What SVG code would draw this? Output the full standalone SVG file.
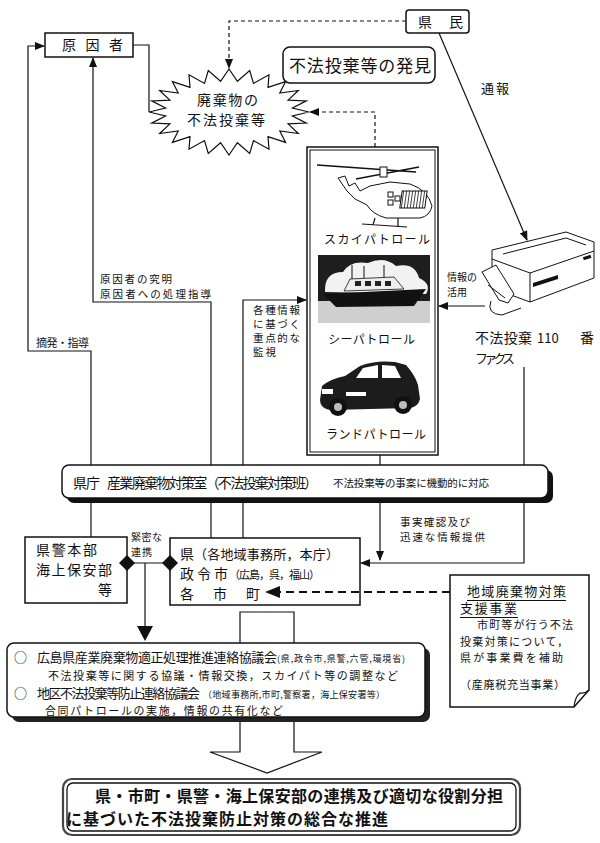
<svg xmlns="http://www.w3.org/2000/svg" width="600" height="843" viewBox="0 0 600 843">
<defs>
<marker id="ah" markerWidth="10" markerHeight="8" refX="9" refY="4" orient="auto" markerUnits="userSpaceOnUse"><path d="M0,0 L10,4 L0,8 Z" fill="#111"/></marker>
<pattern id="hatch" width="3" height="3" patternUnits="userSpaceOnUse"><rect width="3" height="3" fill="#fff"/><path d="M0,0 L0,3" stroke="#111" stroke-width="1.6"/></pattern>
</defs>
<style>
text{font-family:"Noto Sans CJK JP","Noto Sans",sans-serif;fill:#111}
.ln{fill:none;stroke:#111;stroke-width:1.2}
.dash{fill:none;stroke:#111;stroke-width:1.2;stroke-dasharray:4 3}
.box{fill:#fff;stroke:#111;stroke-width:1.5}
.s10{font-size:10px}.s105{font-size:10.5px}.s11{font-size:11px}.s12{font-size:12px}.s13{font-size:13px}.s14{font-size:14px}.s16{font-size:16px}
.pic{stroke:#111;stroke-width:1}
</style>
<rect width="600" height="843" fill="#fff"/>

<g id="result-arrow">
<polygon points="240,612 294,612 294,752 322,752 267,773 210,752 240,752" fill="#fff" stroke="#111" stroke-width="1.2"/>
</g>

<g id="cause">
<rect class="box" x="45" y="33" width="88" height="24"/>
<text class="s14" x="62" y="50" textLength="61" lengthAdjust="spacing">原因者</text>
</g>

<g id="citizens">
<rect class="box" x="406" y="10" width="63" height="23" rx="3"/>
<text class="s14" x="418" y="27" textLength="45" lengthAdjust="spacing">県民</text>
</g>

<g id="discovery">
<rect class="box" x="283" y="47" width="152" height="36" rx="7"/>
<text style="font-size:17px" x="289" y="72" textLength="142" lengthAdjust="spacing">不法投棄等の発見</text>
</g>

<g id="dumping">
<polygon fill="#fff" stroke="#111" stroke-width="1.2" points="309,112 292.4,116 306.3,123.1 288.1,123.9 298.3,133.5 279.8,130.9 285.6,142.4 268,136.6 269,149.2 253.5,140.6 249.7,153.5 237.4,142.7 229,155 220.6,142.7 208.3,153.5 204.5,140.6 189,149.2 190,136.6 172.4,142.4 178.2,130.9 159.7,133.5 169.9,123.9 151.7,123.1 165.6,116 149,112 165.6,108 151.7,100.9 169.9,100.1 159.7,90.5 178.2,93.1 172.4,81.6 190,87.4 189,74.8 204.5,83.4 208.3,70.5 220.6,81.3 229,69 237.4,81.3 249.7,70.5 253.5,83.4 269,74.8 268,87.4 285.6,81.6 279.8,93.1 298.3,90.5 288.1,100.1 306.3,100.9 292.4,108"/>
<text class="s14" x="197" y="105" textLength="61" lengthAdjust="spacing">廃棄物の</text>
<text class="s14" x="187" y="125" textLength="78" lengthAdjust="spacing">不法投棄等</text>
</g>

<g id="patrol">
<rect class="box" x="307" y="147" width="131" height="308"/>
<rect fill="none" stroke="#111" stroke-width="1" x="310" y="150" width="125" height="302"/>
<g class="pic" fill="none">
<path d="M317,165 L416,172 M356,179 L419,167" stroke-width="1.3"/>
<rect x="380" y="167" width="7" height="10" fill="#fff"/>
<path fill="#fff" d="M338,178 L345,176 L349,186 L355,183 L360,191 L370,186 L390,182 L410,184 Q428,190 432,206 Q430,216 420,218 L386,218 Q372,214 367,205 L355,199 L347,191 Z"/>
<rect x="401" y="191" width="25" height="17" fill="url(#hatch)" transform="skewX(-8) translate(28,0)"/>
<rect x="388" y="192" width="5" height="5" fill="#fff"/>
<rect x="388" y="200" width="5" height="5" fill="#fff"/>
<rect x="395" y="196" width="5" height="5" fill="#fff"/>
<path d="M362,224 L407,227 M375,218 L373,225 M398,218 L398,226" stroke-width="1.2"/>
</g>
<text class="s12" x="324" y="244" textLength="106" lengthAdjust="spacing">スカイパトロール</text>
<rect x="318" y="255" width="112" height="68" fill="#1e1e1e"/>
<rect x="318" y="301" width="112" height="22" fill="#cfcfcf"/>
<path d="M325,292 Q324,272 343,272 Q350,260 368,263 Q384,256 396,266 Q415,262 419,278 Q432,284 426,294 Z" fill="#f2f2f2"/>
<path d="M323,294 L426,289 L414,306 L336,307 Z" fill="#111"/>
<path d="M344,291 L350,279 L394,277 L404,289 Z" fill="#eee" stroke="#111" stroke-width="0.8"/>
<path d="M355,281 h6 v5 h-6 z M365,281 h6 v5 h-6 z M375,281 h6 v5 h-6 z M385,281 h6 v5 h-6 z" fill="#222"/>
<path d="M352,279 L352,265 M364,278 L364,266 M384,277 L384,265" stroke="#111" stroke-width="1"/>
<text class="s12" x="328" y="344" textLength="87" lengthAdjust="spacing">シーパトロール</text>
<path d="M320,400 L322,386 Q330,379 345,376 L360,366 Q375,360 395,362 L406,365 Q415,375 418,385 L420,399 Q418,407 410,408 L330,410 Q320,408 320,400 Z" fill="#1c1c1c"/>
<path d="M356,378 L363,368 L378,365 L378,378 Z M382,365 L395,366 L401,378 L382,378 Z" fill="#fff"/>
<rect x="322" y="389" width="11" height="5" fill="#fff"/>
<rect x="346" y="392" width="20" height="4" fill="#fff"/>
<circle cx="338" cy="407" r="9" fill="#111"/><circle cx="338" cy="407" r="4" fill="#bbb"/>
<circle cx="403" cy="405" r="9" fill="#111"/><circle cx="403" cy="405" r="4" fill="#bbb"/>
<text class="s12" x="326" y="439" textLength="100" lengthAdjust="spacing">ランドパトロール</text>
</g>

<g id="fax">
<path class="pic" fill="#fff" d="M492,250 L566,232 L594,242 L594,278 L530,302 L492,288 Z"/>
<path class="pic" fill="none" d="M492,259 L530,273 L594,251 M530,273 L530,302 M503,254 L566,238 L586,245"/>
<polygon points="533,283 558,275 558,279 533,287" fill="#111"/>
<rect x="583" y="256" width="8" height="3" fill="#111" transform="rotate(-18 587 257)"/>
<path class="pic" fill="#fff" d="M482,272 L496,265 L514,294 L508,303 L499,300 Z"/>
<path class="pic" fill="none" d="M488,285 L505,298 M491,301 Q486,314 502,315 L521,308"/>
</g>

<g id="labels">
<text class="s13" x="481" y="93" textLength="28" lengthAdjust="spacing">通報</text>
<text class="s105" x="100" y="283" textLength="72" lengthAdjust="spacing">原因者の究明</text>
<text class="s105" x="100" y="298" textLength="111" lengthAdjust="spacing">原因者への処理指導</text>
<text class="s11" x="36" y="347" textLength="53" lengthAdjust="spacing">摘発・指導</text>
<text class="s105" x="253" y="314" textLength="47" lengthAdjust="spacing">各種情報</text>
<text class="s105" x="253" y="328" textLength="47" lengthAdjust="spacing">に基づく</text>
<text class="s105" x="253" y="342" textLength="47" lengthAdjust="spacing">重点的な</text>
<text class="s105" x="253" y="356" textLength="23" lengthAdjust="spacing">監視</text>
<text class="s10" x="447" y="281" textLength="30" lengthAdjust="spacing">情報の</text>
<text class="s10" x="447" y="296" textLength="20" lengthAdjust="spacing">活用</text>
<text class="s14" y="343"><tspan x="475" textLength="57" lengthAdjust="spacing">不法投棄</tspan><tspan x="537" style="font-size:13px">110</tspan><tspan x="580">番</tspan></text>
<text class="s13" x="475" y="363" textLength="40" lengthAdjust="spacing">ファクス</text>
<text class="s105" x="400" y="526" textLength="70" lengthAdjust="spacing">事実確認及び</text>
<text class="s105" x="400" y="541" textLength="85" lengthAdjust="spacing">迅速な情報提供</text>
<text class="s10" x="131" y="541" textLength="31" lengthAdjust="spacing">緊密な</text>
<text class="s10" x="131" y="556" textLength="21" lengthAdjust="spacing">連携</text>
</g>

<g id="office">
<rect x="67" y="470" width="486" height="33" rx="7" fill="#111"/>
<rect class="box" x="62" y="465" width="486" height="33" rx="7"/>
<text class="s14" x="73" y="488"><tspan textLength="27" lengthAdjust="spacing">県庁</tspan><tspan x="107" textLength="211" lengthAdjust="spacing">産業廃棄物対策室（不法投棄対策班）</tspan></text>
<text class="s105" x="333" y="487" textLength="156" lengthAdjust="spacing">不法投棄等の事案に機動的に対応</text>
</g>

<g id="police">
<rect class="box" x="25" y="537" width="102" height="66"/>
<text class="s14" x="36" y="555" textLength="61" lengthAdjust="spacing">県警本部</text>
<text class="s14" x="36" y="575" textLength="76" lengthAdjust="spacing">海上保安部</text>
<text class="s14" x="98" y="595">等</text>
</g>

<g id="prefecture">
<rect class="box" x="170" y="538" width="190" height="67"/>
<text y="559"><tspan class="s14" x="180">県</tspan><tspan class="s13" x="194" textLength="145" lengthAdjust="spacing">（各地域事務所，本庁）</tspan></text>
<text y="579"><tspan class="s14" x="180" textLength="48" lengthAdjust="spacing">政令市</tspan><tspan class="s11" x="229" textLength="91" lengthAdjust="spacing">（広島，呉，福山）</tspan></text>
<text class="s14" x="180" y="599" textLength="80" lengthAdjust="spacing">各市町</text>
</g>

<g id="support">
<path d="M450,575 L589,575 L589,690 L574,707 L450,707 Z" fill="#fff" stroke="#111" stroke-width="1.5"/>
<path d="M574,707 Q575,697 580,693 Q585,694 589,690" fill="none" stroke="#111" stroke-width="1.2"/>
<text class="s13" x="467" y="596" textLength="99" lengthAdjust="spacing">地域廃棄物対策</text>
<path class="ln" d="M467,600.5 L566,600.5"/>
<text class="s13" x="460" y="613" textLength="57" lengthAdjust="spacing">支援事業</text>
<path class="ln" d="M460,617.5 L518,617.5"/>
<text class="s11" x="477" y="629" textLength="96" lengthAdjust="spacing">市町等が行う不法</text>
<text class="s11" x="460" y="646" textLength="108" lengthAdjust="spacing">投棄対策について，</text>
<text class="s11" x="460" y="662" textLength="103" lengthAdjust="spacing">県が事業費を補助</text>
<text class="s11" x="460" y="689" textLength="105" lengthAdjust="spacing">（産廃税充当事業）</text>
</g>

<g id="council">
<rect x="12" y="648" width="418" height="74" rx="7" fill="#222"/>
<rect class="box" x="7" y="643" width="418" height="74" rx="7"/>
<text y="662"><tspan class="s13" x="14">○</tspan><tspan class="s13" x="37" textLength="240" lengthAdjust="spacing">広島県産業廃棄物適正処理推進連絡協議会</tspan><tspan style="font-size:9px" x="277" textLength="128" lengthAdjust="spacing">(県,政令市,県警,六管,環境省)</tspan></text>
<text class="s11" x="48" y="680" textLength="350" lengthAdjust="spacing">不法投棄等に関する協議・情報交換，スカイパト等の調整など</text>
<text y="698"><tspan class="s13" x="14">○</tspan><tspan class="s13" x="37" textLength="163" lengthAdjust="spacing">地区不法投棄等防止連絡協議会</tspan><tspan style="font-size:9px" x="203" textLength="182" lengthAdjust="spacing">（地域事務所,市町,警察署，海上保安署等）</tspan></text>
<text class="s11" x="45" y="715" textLength="238" lengthAdjust="spacing">合同パトロールの実施，情報の共有化など</text>
</g>

<g id="outcome">
<rect x="63" y="779" width="457" height="56" rx="9" fill="#fff" stroke="#444" stroke-width="2.2"/>
<rect x="67" y="783" width="449" height="48" rx="6" fill="#fff" stroke="#111" stroke-width="1.3"/>
<text class="s16" font-weight="bold" x="95" y="802" textLength="408" lengthAdjust="spacing">県・市町・県警・海上保安部の連携及び適切な役割分担</text>
<text class="s16" font-weight="bold" x="66" y="825" textLength="322" lengthAdjust="spacing">に基づいた不法投棄防止対策の総合な推進</text>
</g>

<g id="connectors">
<path class="ln" d="M91,465 L91,351 L28,351 L28,46 L44,46" marker-end="url(#ah)"/>
<path class="ln" d="M211,465 L211,302 L93,302 L93,58" marker-end="url(#ah)"/>
<path class="ln" d="M133,45 L149,45 L149,112"/>
<path class="dash" d="M406,21 L229,21 L229,68" marker-end="url(#ah)"/>
<path class="dash" d="M375,147 L375,112 L310,112" marker-end="url(#ah)"/>
<path class="ln" d="M243,465 L243,300 L306,300" marker-end="url(#ah)"/>
<path class="ln" d="M380,455 L380,465"/>
<path class="ln" stroke-width="1.5" d="M439,33 L527,240" marker-end="url(#ah)"/>
<path class="ln" d="M485,306 L439,306" marker-end="url(#ah)"/>
<path class="ln" d="M524,367 L524,465"/>
<path class="ln" d="M91,503 L91,537 M211,503 L211,538 M243,503 L243,538"/>
<path class="ln" d="M380,503 L380,560" marker-end="url(#ah)"/>
<path class="ln" d="M524,503 L524,563 L361,563" marker-end="url(#ah)"/>
<path class="ln" stroke-width="1.8" d="M127,563 L170,563"/>
<polygon points="127,555 135,563 127,571 119,563" fill="#111"/>
<polygon points="170,555 178,563 170,571 162,563" fill="#111"/>
<path class="ln" stroke-width="3" d="M145,563 L145,628"/>
<polygon points="137,626 153,626 145,641" fill="#111"/>
<path fill="none" stroke="#111" stroke-width="2" stroke-dasharray="8 5" d="M450,592 L277,592"/>
<polygon points="265,592 280,586 280,598" fill="#111"/>
</g>
</svg>
